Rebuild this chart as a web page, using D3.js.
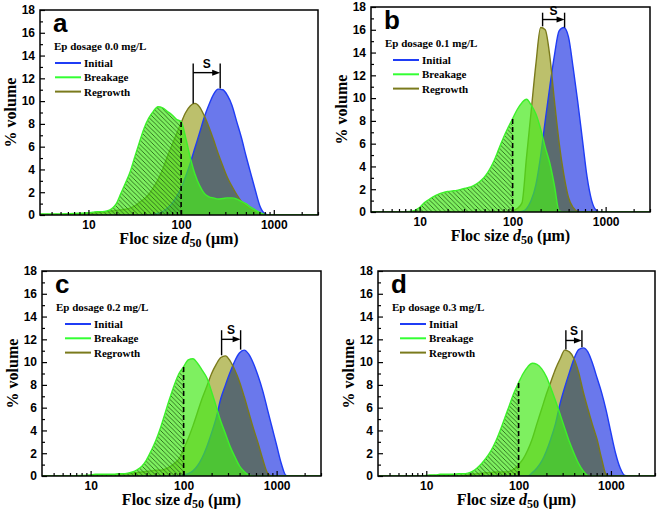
<!DOCTYPE html>
<html><head><meta charset="utf-8">
<script src="https://cdn.jsdelivr.net/npm/d3@7"></script>
<style>
body{margin:0;background:#fff;}
svg{display:block;}
</style></head>
<body><svg id="chart" width="660" height="512"></svg>
<script>
// ---------- DATA ----------
const panelLetters = ["a", "b", "c", "d"];
const dosageLabels = ["Ep dosage 0.0 mg/L", "Ep dosage 0.1 mg/L", "Ep dosage 0.2 mg/L", "Ep dosage 0.3 mg/L"];
const seriesNames = ["Initial", "Breakage", "Regrowth"];
const yTicks = [0, 2, 4, 6, 8, 10, 12, 14, 16, 18];
const xTickLabels = [10, 100, 1000];

// floc size bins (µm)
const sizes = [3, 5, 7.9,
  10, 11.2, 12.6, 14.1, 15.8, 17.8, 20, 22.4, 25.1, 28.2,
  31.6, 35.5, 39.8, 44.7, 50.1, 56.2, 63.1, 70.8, 79.4, 89.1,
  100, 112, 126, 141, 158, 178, 200, 224, 251, 282,
  316, 355, 398, 447, 501, 562, 631, 708, 794, 891,
  1000, 1122, 1259, 1413, 1585, 1778, 1995, 3000];

// panel a : 0.0 mg/L
const initialA = [0, 0, 0,
  0, 0, 0, 0, 0, 0, 0, 0, 0, 0,
  0, 0, 0, 0, 0.05, 0.15, 0.3, 0.6, 1.0, 1.6,
  2.4, 3.4, 4.6, 5.9, 7.2, 8.6, 9.7, 10.6, 11.05, 11.0,
  10.5, 9.6, 8.2, 6.8, 5.2, 3.7, 2.2, 0.8, 0.15, 0,
  0, 0, 0, 0, 0, 0, 0, 0];
const breakageA = [0.1, 0.1, 0.15,
  0.2, 0.25, 0.3, 0.3, 0.35, 0.55, 1.0, 1.9, 2.8, 3.8,
  5.1, 6.4, 7.6, 8.5, 9.1, 9.5, 9.4, 9.1, 8.8, 8.4,
  8.2, 6.8, 5.0, 3.6, 2.6, 1.9, 1.6, 1.5, 1.4, 1.45,
  1.5, 1.5, 1.4, 1.2, 1.0, 0.7, 0.45, 0.2, 0.05, 0,
  0, 0, 0, 0, 0, 0, 0, 0];
const regrowthA = [0, 0, 0.05,
  0.1, 0.15, 0.2, 0.25, 0.3, 0.35, 0.4, 0.45, 0.5, 0.6,
  0.8, 1.1, 1.4, 1.8, 2.4, 3.1, 4.0, 5.1, 6.1, 7.1,
  8.1, 9.0, 9.6, 9.8, 9.5, 8.7, 7.7, 6.6, 5.4, 4.3,
  3.3, 2.5, 1.8, 1.2, 0.8, 0.5, 0.3, 0.15, 0.05, 0,
  0, 0, 0, 0, 0, 0, 0, 0];

// panel b : 0.1 mg/L
const initialB = [0, 0, 0,
  0, 0, 0, 0, 0, 0, 0, 0, 0, 0,
  0, 0, 0, 0, 0, 0, 0, 0, 0, 0,
  0, 0, 0.05, 0.3, 1.0, 2.4, 4.9, 8.0, 11.0, 13.8,
  15.9, 16.2, 15.4, 12.7, 9.7, 6.4, 3.1, 1.0, 0.15, 0,
  0, 0, 0, 0, 0, 0, 0, 0];
const breakageB = [0, 0, 0.05,
  0.4, 0.8, 1.1, 1.35, 1.55, 1.7, 1.8, 1.85, 1.9, 2.0,
  2.1, 2.2, 2.4, 2.7, 3.1, 3.7, 4.5, 5.5, 6.5, 7.4,
  8.2, 9.0, 9.6, 9.9, 9.4, 8.6, 7.3, 5.7, 4.3, 2.3,
  0.1, 0, 0, 0, 0, 0, 0, 0, 0, 0,
  0, 0, 0, 0, 0, 0, 0, 0];
const regrowthB = [0, 0, 0,
  0, 0, 0, 0, 0, 0, 0, 0, 0, 0,
  0, 0, 0, 0, 0, 0, 0, 0, 0, 0,
  0.1, 0.3, 0.8, 4.8, 8.8, 13.0, 16.2, 16.0, 13.7, 9.7,
  6.1, 3.3, 1.3, 0.4, 0.05, 0, 0, 0, 0, 0,
  0, 0, 0, 0, 0, 0, 0, 0];

// panel c : 0.2 mg/L
const initialC = [0, 0, 0,
  0, 0, 0, 0, 0, 0, 0, 0, 0, 0,
  0, 0, 0, 0, 0, 0, 0, 0, 0, 0,
  0.1, 0.2, 0.45, 0.9, 1.6, 2.6, 3.8, 5.1, 6.8, 8.0,
  9.1, 10.1, 10.8, 11.05, 10.7, 9.9, 8.8, 7.5, 5.9, 4.3,
  2.7, 1.1, 0.05, 0, 0, 0, 0, 0];
const breakageC = [0, 0, 0.05,
  0.1, 0.15, 0.15, 0.15, 0.15, 0.15, 0.2, 0.2, 0.25, 0.35,
  0.55, 0.85, 1.4, 2.2, 3.1, 4.2, 5.5, 6.8, 8.0, 9.0,
  9.6, 10.2, 10.3, 9.9, 9.3, 8.6, 7.4, 6.1, 4.8, 3.7,
  2.6, 1.7, 0.9, 0.4, 0.1, 0, 0, 0, 0, 0,
  0, 0, 0, 0, 0, 0, 0, 0];
const regrowthC = [0, 0, 0,
  0, 0, 0, 0, 0, 0, 0.1, 0.15, 0.2, 0.25,
  0.3, 0.35, 0.4, 0.45, 0.5, 0.5, 0.6, 0.8, 1.1, 1.5,
  2.4, 3.3, 4.4, 5.6, 6.8, 7.9, 9.0, 9.8, 10.4, 10.55,
  10.1, 9.3, 8.3, 7.0, 5.6, 4.2, 2.9, 1.5, 0.3, 0,
  0, 0, 0, 0, 0, 0, 0, 0];

// panel d : 0.3 mg/L
const initialD = [0, 0, 0,
  0, 0, 0, 0, 0, 0, 0, 0, 0, 0,
  0, 0, 0, 0, 0, 0, 0, 0, 0, 0,
  0, 0, 0, 0.3, 0.7, 1.3, 2.2, 3.3, 4.6, 6.4,
  7.8, 9.1, 10.3, 11.1, 11.25, 10.9, 9.9, 8.6, 7.3, 5.7,
  3.8, 2.0, 0.7, 0.05, 0, 0, 0, 0];
const breakageD = [0, 0, 0,
  0.05, 0.1, 0.1, 0.15, 0.15, 0.15, 0.15, 0.2, 0.2, 0.25,
  0.4, 0.7, 1.1, 1.6, 2.2, 3.0, 4.0, 5.1, 6.2, 7.3,
  8.2, 9.0, 9.6, 9.9, 9.8, 9.4, 8.7, 7.7, 6.6, 5.4,
  4.2, 3.0, 2.0, 1.1, 0.45, 0.05, 0, 0, 0, 0,
  0, 0, 0, 0, 0, 0, 0, 0];
const regrowthD = [0, 0, 0,
  0, 0, 0, 0, 0, 0, 0, 0, 0.05, 0.1,
  0.15, 0.2, 0.25, 0.3, 0.3, 0.35, 0.35, 0.35, 0.4, 0.6,
  1.0, 1.5, 2.3, 3.3, 4.6, 5.9, 7.2, 8.3, 9.4, 10.3,
  11.05, 10.9, 10.3, 9.1, 7.4, 5.9, 4.5, 3.2, 1.5, 0.1,
  0, 0, 0, 0, 0, 0, 0, 0];

// "S" shift annotation: regrowth peak -> initial peak
const sFrom = [135, 210, 256, 325];
const sTo = [264, 362, 410, 485];
const sFromPeak = [9.8, 16.3, 10.6, 11.1];
const sToPeak = [11.1, 16.2, 11.1, 11.3];
const sTop = [13.3, 17.5, 12.8, 12.8];
const sArrow = [12.5, 16.9, 12.0, 11.9];
const cutSize = 100;

// ---------- DRAW ----------
const panelData = [
  {initial: initialA, breakage: breakageA, regrowth: regrowthA},
  {initial: initialB, breakage: breakageB, regrowth: regrowthB},
  {initial: initialC, breakage: breakageC, regrowth: regrowthC},
  {initial: initialD, breakage: breakageD, regrowth: regrowthD}
];
const boxes = [
  {l: 40, r: 318, t: 10, b: 215},
  {l: 371, r: 650, t: 7, b: 212},
  {l: 42, r: 321, t: 271, b: 476},
  {l: 378, r: 655, t: 271, b: 476}
];
const legendDx = [15, 22, 23, 22];
const C = {
  initialFill: "#6a78ec", initialLine: "#1f3cf5",
  regrowthFill: "#bcc06c", regrowthLine: "#7a7a1c", overlap: "#5b6b6f",
  breakFill: "rgb(71,234,28)", breakLine: "#3cf02a", hatch: "#2a6a1a"
};
const legendColors = [C.initialLine, "#33ff33", C.regrowthLine];
const sans = "'Liberation Sans', Arial, sans-serif";
const serif = "'Liberation Serif', 'Times New Roman', serif";

const svg = d3.select("#chart");
const defs = svg.append("defs");
const pat = defs.append("pattern").attr("id", "hatch")
  .attr("patternUnits", "userSpaceOnUse").attr("width", 4.5).attr("height", 4.5);
pat.append("path").attr("d", "M-1,-1 L5.5,5.5 M3.5,-1 L5.5,1 M-1,3.5 L1,5.5")
  .attr("stroke", C.hatch).attr("stroke-width", 0.9).attr("fill", "none");

const minorX = [];
[1, 10, 100, 1000].forEach(dec => { for (let k = 2; k <= 9; k++) { const v = k * dec; if (v > 3 && v <= 3000 && v !== 10 && v !== 100 && v !== 1000) minorX.push(v); } });
const minorY = d3.range(1, 18, 2);

panelData.forEach((pd, i) => {
  const B = boxes[i];
  const x = d3.scaleLog().domain([3, 3000]).range([B.l, B.r]);
  const y = d3.scaleLinear().domain([0, 18]).range([B.b, B.t]);
  const area = d3.area().x((d, j) => x(sizes[j])).y0(y(0)).y1(d => y(d)).curve(d3.curveMonotoneX);
  const line = d3.line().x((d, j) => x(sizes[j])).y(d => y(d)).curve(d3.curveMonotoneX);

  defs.append("clipPath").attr("id", "plot" + i).append("rect")
    .attr("x", B.l).attr("y", B.t).attr("width", B.r - B.l).attr("height", B.b - B.t);
  defs.append("clipPath").attr("id", "ov" + i).append("path").attr("d", area(pd.initial));
  defs.append("clipPath").attr("id", "cut" + i).append("rect")
    .attr("x", B.l).attr("y", B.t).attr("width", x(cutSize) - B.l).attr("height", B.b - B.t);

  const g = svg.append("g").attr("clip-path", `url(#plot${i})`);
  g.append("path").attr("d", area(pd.initial)).attr("fill", C.initialFill);
  g.append("path").attr("d", area(pd.regrowth)).attr("fill", C.regrowthFill);
  g.append("path").attr("d", area(pd.regrowth)).attr("fill", C.overlap).attr("clip-path", `url(#ov${i})`);
  g.append("path").attr("d", line(pd.initial)).attr("fill", "none").attr("stroke", C.initialLine).attr("stroke-width", 1.4);
  g.append("path").attr("d", line(pd.regrowth)).attr("fill", "none").attr("stroke", C.regrowthLine).attr("stroke-width", 1.4);
  g.append("path").attr("d", area(pd.breakage)).attr("fill", C.breakFill).attr("fill-opacity", 0.7);
  g.append("g").attr("clip-path", `url(#cut${i})`)
    .append("path").attr("d", area(pd.breakage)).attr("fill", "url(#hatch)");
  g.append("path").attr("d", line(pd.breakage)).attr("fill", "none").attr("stroke", C.breakLine).attr("stroke-width", 1.4);

  // dashed cut line at 100 µm
  const cutVal = pd.breakage[sizes.indexOf(cutSize)];
  svg.append("line").attr("x1", x(cutSize)).attr("x2", x(cutSize))
    .attr("y1", y(0)).attr("y2", y(cutVal))
    .attr("stroke", "#000").attr("stroke-width", 1.6).attr("stroke-dasharray", "5,3");

  // S annotation
  const sa = svg.append("g").attr("stroke", "#000").attr("stroke-width", 1.4);
  sa.append("line").attr("x1", x(sFrom[i])).attr("x2", x(sFrom[i])).attr("y1", y(sFromPeak[i])).attr("y2", y(sTop[i]));
  sa.append("line").attr("x1", x(sTo[i])).attr("x2", x(sTo[i])).attr("y1", y(sToPeak[i])).attr("y2", y(sTop[i]));
  sa.append("line").attr("x1", x(sFrom[i])).attr("x2", x(sTo[i]) - 6).attr("y1", y(sArrow[i])).attr("y2", y(sArrow[i]));
  const ax = x(sTo[i]), ay = y(sArrow[i]);
  svg.append("path").attr("d", `M${ax},${ay} L${ax - 8},${ay - 3} L${ax - 8},${ay + 3} Z`).attr("fill", "#000");
  svg.append("text").attr("x", (x(sFrom[i]) + x(sTo[i])) / 2).attr("y", ay - 5)
    .attr("text-anchor", "middle").attr("font-family", sans).attr("font-weight", "bold").attr("font-size", 12)
    .text("S");

  // axes
  const xMaj = d3.axisBottom(x).tickValues(xTickLabels).tickFormat(d3.format("d"))
    .tickSizeInner(-5).tickSizeOuter(0).tickPadding(5);
  const xMin = d3.axisBottom(x).tickValues(minorX).tickFormat("").tickSizeInner(-3).tickSizeOuter(0);
  const yMaj = d3.axisLeft(y).tickValues(yTicks).tickSizeInner(-5).tickSizeOuter(0).tickPadding(5);
  const yMin = d3.axisLeft(y).tickValues(minorY).tickFormat("").tickSizeInner(-3).tickSizeOuter(0);
  [[xMaj, `translate(0,${B.b})`], [xMin, `translate(0,${B.b})`], [yMaj, `translate(${B.l},0)`], [yMin, `translate(${B.l},0)`]]
    .forEach(([ax, tr]) => {
      const ag = svg.append("g").attr("transform", tr).call(ax);
      ag.select(".domain").remove();
      ag.selectAll("line").attr("stroke", "#000").attr("stroke-width", 1.2);
      ag.selectAll("text").attr("font-family", sans).attr("font-weight", "bold").attr("font-size", 12).attr("fill", "#000");
    });

  svg.append("rect").attr("x", B.l).attr("y", B.t).attr("width", B.r - B.l).attr("height", B.b - B.t)
    .attr("fill", "none").attr("stroke", "#000").attr("stroke-width", 1.5);

  // axis titles
  const xt = svg.append("text").attr("x", (B.l + B.r) / 2).attr("y", B.b + 29)
    .attr("text-anchor", "middle").attr("font-family", serif).attr("font-weight", "bold").attr("font-size", 16);
  xt.append("tspan").text("Floc size ");
  xt.append("tspan").attr("font-style", "italic").text("d");
  xt.append("tspan").attr("dy", 3).attr("font-size", 12).text("50");
  xt.append("tspan").attr("dy", -3).text(" (μm)");
  svg.append("text").attr("transform", `translate(${B.l - 24},${(B.t + B.b) / 2}) rotate(-90)`)
    .attr("text-anchor", "middle").attr("font-family", serif).attr("font-weight", "bold").attr("font-size", 16)
    .text("% volume");

  // panel letter and dosage
  svg.append("text").attr("x", B.l + 13).attr("y", B.t + 22).attr("font-family", sans).attr("font-weight", "bold")
    .attr("font-size", 26).text(panelLetters[i]);
  svg.append("text").attr("x", B.l + 14).attr("y", B.t + 40).attr("font-family", serif).attr("font-weight", "bold")
    .attr("font-size", 11).text(dosageLabels[i]);

  // legend
  seriesNames.forEach((name, k) => {
    const ly = B.t + 53 + k * 14.3;
    svg.append("line").attr("x1", B.l + legendDx[i]).attr("x2", B.l + legendDx[i] + 26).attr("y1", ly).attr("y2", ly)
      .attr("stroke", legendColors[k]).attr("stroke-width", 2);
    svg.append("text").attr("x", B.l + legendDx[i] + 29).attr("y", ly + 4).attr("font-family", serif)
      .attr("font-weight", "bold").attr("font-size", 11).text(name);
  });
});
</script>
</body></html>
